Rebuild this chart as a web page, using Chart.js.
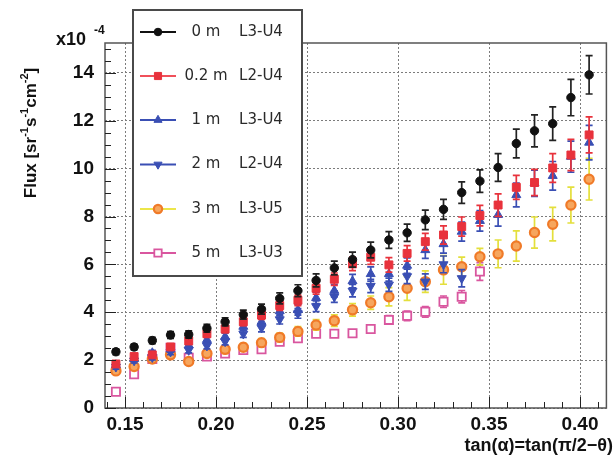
<!DOCTYPE html>
<html>
<head>
<meta charset="utf-8">
<script src="https://cdn.jsdelivr.net/npm/chart.js@4.4.0/dist/chart.umd.min.js"></script>
<style>
  html, body { margin: 0; padding: 0; background: #fff; }
</style>
</head>
<body>
<canvas id="fluxChart" width="614" height="458"></canvas>
<script>
// tan(alpha) bin centres
const tanAlpha = [0.145, 0.155, 0.165, 0.175, 0.185, 0.195, 0.205, 0.215, 0.225, 0.235,
  0.245, 0.255, 0.265, 0.275, 0.285, 0.295, 0.305, 0.315, 0.325, 0.335,
  0.345, 0.355, 0.365, 0.375, 0.385, 0.395, 0.405];

// flux values, in units of 1e-4 sr^-1 s^-1 cm^-2
const flux0m = [2.35, 2.55, 2.82, 3.05, 3.07, 3.33, 3.6, 3.9, 4.13, 4.58,
  4.9, 5.33, 5.85, 6.2, 6.6, 7.02, 7.32, 7.86, 8.3, 9.0,
  9.48, 10.05, 11.05, 11.58, 11.88, 12.97, 13.92];
const err0m = [0.12, 0.12, 0.13, 0.14, 0.15, 0.16, 0.17, 0.19, 0.21, 0.23,
  0.25, 0.27, 0.29, 0.31, 0.33, 0.35, 0.36, 0.41, 0.42, 0.45,
  0.47, 0.58, 0.6, 0.67, 0.7, 0.76, 0.8];

const flux02m = [1.84, 2.15, 2.22, 2.55, 2.8, 3.1, 3.3, 3.6, 3.88, 4.28,
  4.5, 5.0, 5.38, 6.02, 6.3, 5.98, 6.46, 6.95, 7.23, 7.58,
  8.04, 8.48, 9.22, 9.42, 10.03, 10.57, 11.41];
const err02m = [0.1, 0.1, 0.11, 0.12, 0.13, 0.14, 0.15, 0.16, 0.18, 0.2,
  0.22, 0.24, 0.26, 0.28, 0.3, 0.3, 0.32, 0.35, 0.38, 0.4,
  0.43, 0.47, 0.5, 0.55, 0.6, 0.65, 0.75];

const flux1m = [1.8, 2.05, 2.3, 2.45, 2.62, 2.85, 2.98, 3.4, 3.6, 4.05,
  4.1, 4.6, 4.9, 5.3, 5.6, 5.6, 5.95, 6.6, 6.85, 7.37,
  7.82, 8.07, 8.9, 9.39, 9.7, 10.5, 11.09];
const err1m = [0.1, 0.1, 0.11, 0.12, 0.13, 0.14, 0.15, 0.16, 0.18, 0.2,
  0.22, 0.24, 0.26, 0.28, 0.3, 0.3, 0.32, 0.35, 0.38, 0.4,
  0.43, 0.47, 0.5, 0.55, 0.6, 0.65, 0.72];

const flux2m = [1.72, 1.98, 2.12, 2.35, 2.42, 2.6, 2.78, 3.1, 3.35, 3.7,
  3.95, 4.25, 4.65, 4.9, 5.1, 5.15, 5.5, 5.28, 6.0, 5.42];
const err2m = [0.1, 0.1, 0.11, 0.12, 0.12, 0.13, 0.14, 0.15, 0.17, 0.19,
  0.2, 0.22, 0.24, 0.26, 0.28, 0.28, 0.3, 0.32, 0.35, 0.36];

const flux3m = [1.55, 1.73, 2.05, 2.22, 1.94, 2.28, 2.45, 2.54, 2.73, 2.95,
  3.2, 3.47, 3.65, 4.1, 4.4, 4.65, 5.0, 5.28, 5.77, 5.9,
  6.32, 6.44, 6.77, 7.33, 7.68, 8.48, 9.56];
const err3m = [0.12, 0.12, 0.13, 0.14, 0.14, 0.15, 0.15, 0.16, 0.17, 0.18,
  0.2, 0.22, 0.24, 0.26, 0.28, 0.38, 0.5, 0.45, 0.6, 0.4,
  0.35, 0.58, 0.63, 0.65, 0.7, 0.75, 0.87];

const flux5m = [0.68, 1.41, 2.05, 2.52, 2.1, 2.15, 2.28, 2.42, 2.45, 2.77,
  2.91, 3.1, 3.1, 3.12, 3.3, 3.68, 3.85, 4.02, 4.44, 4.65, 5.7];
const err5m = [0.1, 0.1, 0.1, 0.11, 0.11, 0.11, 0.12, 0.12, 0.12, 0.13,
  0.13, 0.14, 0.14, 0.15, 0.16, 0.18, 0.2, 0.22, 0.24, 0.26, 0.37];

const depthLabels = ["0 m", "0.2 m", "1 m", "2 m", "3 m", "5 m"];
const layerLabels = ["L3-U4", "L2-U4", "L3-U4", "L2-U4", "L3-U5", "L3-U3"];

const xTicks = [0.15, 0.20, 0.25, 0.30, 0.35, 0.40];
const yTicks = [0, 2, 4, 6, 8, 10, 12, 14];

const toPoints = (ys) => ys.map((y, i) => ({ x: tanAlpha[i], y }));

const styles = [
  { pointStyle: "circle", radius: 4.2, fill: "#111111", border: "#111111", bw: 1, bar: "#222222", line: "#111111", rot: 0 },
  { pointStyle: "rect", radius: 5.6, fill: "#e8323c", border: "#e8323c", bw: 1, bar: "#e8323c", line: "#f0505a", rot: 0 },
  { pointStyle: "triangle", radius: 5.2, fill: "#3a4fb4", border: "#3a4fb4", bw: 1, bar: "#3a4fb4", line: "#3a4fb4", rot: 0 },
  { pointStyle: "triangle", radius: 5.2, fill: "#3a4fb4", border: "#3a4fb4", bw: 1, bar: "#3a4fb4", line: "#3a4fb4", rot: 180 },
  { pointStyle: "circle", radius: 4.6, fill: "#f6a65e", border: "#f07a28", bw: 2.2, bar: "#e4df3c", line: "#ece64a", rot: 0 },
  { pointStyle: "rect", radius: 5.8, fill: "#ffffff", border: "#d9569f", bw: 1.8, bar: "#d9569f", line: "#d9569f", rot: 0 },
];

const seriesValues = [flux0m, flux02m, flux1m, flux2m, flux3m, flux5m];
const seriesErrors = [err0m, err02m, err1m, err2m, err3m, err5m];

const datasets = seriesValues.map((vals, i) => ({
  label: depthLabels[i],
  data: toPoints(vals),
  errors: seriesErrors[i],
  showLine: false,
  pointStyle: styles[i].pointStyle,
  pointRadius: styles[i].radius,
  pointRotation: styles[i].rot,
  pointBackgroundColor: styles[i].fill,
  pointBorderColor: styles[i].border,
  pointBorderWidth: styles[i].bw,
  barColor: styles[i].bar,
}));

const TICK_FONT = { family: "'Liberation Sans', Arial, sans-serif", size: 19, weight: "bold" };

// vertical error bars with caps, drawn just before each dataset's markers
const errorBars = {
  id: "errorBars",
  beforeDatasetDraw(chart, args) {
    const ds = chart.data.datasets[args.index];
    const { x: xs, y: ys } = chart.scales;
    const ctx = chart.ctx;
    ctx.save();
    ctx.strokeStyle = ds.barColor;
    ctx.lineWidth = 1.7;
    ds.data.forEach((p, i) => {
      const e = ds.errors[i];
      const px = xs.getPixelForValue(p.x);
      const top = ys.getPixelForValue(p.y + e);
      const bot = ys.getPixelForValue(p.y - e);
      ctx.beginPath();
      ctx.moveTo(px, top);
      ctx.lineTo(px, bot);
      ctx.moveTo(px - 3.5, top);
      ctx.lineTo(px + 3.5, top);
      ctx.moveTo(px - 3.5, bot);
      ctx.lineTo(px + 3.5, bot);
      ctx.stroke();
    });
    ctx.restore();
  },
};

function drawRich(ctx, parts, x, y) {
  // parts: [text, isSuperscript]
  const big = "bold 17px 'Liberation Sans', Arial, sans-serif";
  const small = "bold 11px 'Liberation Sans', Arial, sans-serif";
  let total = 0;
  parts.forEach(([t, sup]) => {
    ctx.font = sup ? small : big;
    total += ctx.measureText(t).width;
  });
  let cx = x - total / 2;
  parts.forEach(([t, sup]) => {
    ctx.font = sup ? small : big;
    ctx.fillText(t, cx, sup ? y - 8 : y);
    cx += ctx.measureText(t).width;
  });
}

const decorations = {
  id: "decorations",
  afterDraw(chart) {
    const ctx = chart.ctx;
    const { left, right, top, bottom } = chart.chartArea;
    const xs = chart.scales.x;
    const ys = chart.scales.y;
    ctx.save();

    // frame
    ctx.strokeStyle = "#555";
    ctx.lineWidth = 1.5;
    ctx.strokeRect(left, top, right - left, bottom - top);

    // inward tick marks
    ctx.strokeStyle = "#222";
    ctx.lineWidth = 1;
    ctx.beginPath();
    for (let k = 0; k <= 30; k++) {
      const v = k * 0.5;
      if (v > ys.max) break;
      const py = Math.round(ys.getPixelForValue(v)) + 0.5;
      const len = k % 4 === 0 ? 11 : 6;
      ctx.moveTo(left, py);
      ctx.lineTo(left + len, py);
    }
    for (let k = 14; k <= 41; k++) {
      const v = k / 100;
      if (v < xs.min || v > xs.max) continue;
      const px = Math.round(xs.getPixelForValue(v)) + 0.5;
      const len = k % 5 === 0 ? 11 : 6;
      ctx.moveTo(px, bottom);
      ctx.lineTo(px, bottom - len);
    }
    ctx.stroke();

    // axis titles
    ctx.fillStyle = "#111";
    ctx.textBaseline = "alphabetic";
    ctx.textAlign = "left";
    ctx.font = "bold 18px 'Liberation Sans', Arial, sans-serif";
    ctx.fillText("x10", 56, 45);
    ctx.font = "bold 12px 'Liberation Sans', Arial, sans-serif";
    ctx.fillText("-4", 94, 34);

    ctx.textAlign = "right";
    ctx.font = "bold 18px 'Liberation Sans', Arial, sans-serif";
    ctx.fillText("tan(\u03b1)=tan(\u03c0/2\u2212\u03b8)", 613, 451);

    ctx.save();
    ctx.translate(36, 133);
    ctx.rotate(-Math.PI / 2);
    ctx.textAlign = "left";
    drawRich(ctx, [["Flux [sr", false], ["-1", true], ["s", false], ["-1", true], ["cm", false], ["-2", true], ["]", false]], 0, 0);
    ctx.restore();

    // legend box
    const bx = 133, by = 10, bw = 169, bh = 266;
    ctx.fillStyle = "#fff";
    ctx.fillRect(bx, by, bw, bh);
    ctx.strokeStyle = "#4a4a4a";
    ctx.lineWidth = 2;
    ctx.strokeRect(bx, by, bw, bh);

    const rowY = [32, 76, 120, 164.5, 209, 253];
    ctx.font = "15px 'DejaVu Sans', Verdana, sans-serif";
    ctx.textBaseline = "middle";
    ctx.textAlign = "center";
    chart.data.datasets.forEach((ds, i) => {
      const y = rowY[i];
      ctx.strokeStyle = styles[i].line;
      ctx.lineWidth = 2;
      ctx.beginPath();
      ctx.moveTo(140, y);
      ctx.lineTo(176, y);
      ctx.stroke();
      ctx.fillStyle = styles[i].fill;
      ctx.strokeStyle = styles[i].border;
      ctx.lineWidth = styles[i].bw;
      Chart.helpers.drawPoint(ctx, {
        pointStyle: styles[i].pointStyle,
        radius: styles[i].radius * 0.9,
        rotation: styles[i].rot,
        borderWidth: styles[i].bw,
      }, 158, y);
      ctx.fillStyle = "#2a2a2a";
      ctx.fillText(depthLabels[i], 206, y);
      ctx.fillText(layerLabels[i], 261, y);
    });

    ctx.restore();
  },
};

const ctx = document.getElementById("fluxChart").getContext("2d");
new Chart(ctx, {
  type: "scatter",
  data: { datasets },
  options: {
    responsive: false,
    animation: false,
    layout: { padding: { left: 0, right: 2, top: 43, bottom: 0 } },
    plugins: { legend: { display: false }, tooltip: { enabled: false } },
    scales: {
      x: {
        type: "linear",
        min: 0.139,
        max: 0.4145,
        afterBuildTicks: (s) => { s.ticks = xTicks.map((v) => ({ value: v })); },
        afterFit: (s) => {
          s.height = 50;
          s.paddingLeft = 0; s.paddingRight = 0;
        },
        grid: { color: "#7c7c7c", lineWidth: 1, drawTicks: false },
        border: { display: false, dash: [2, 2] },
        ticks: {
          padding: 5,
          maxRotation: 0,
          autoSkip: false,
          color: "#111",
          font: TICK_FONT,
          callback: (v) => v.toFixed(2),
        },
      },
      y: {
        type: "linear",
        min: 0,
        max: 15.25,
        afterBuildTicks: (s) => { s.ticks = yTicks.map((v) => ({ value: v })); },
        afterFit: (s) => {
          s.width = 105;
          s.paddingTop = 0; s.paddingBottom = 0;
        },
        grid: { color: "#7c7c7c", lineWidth: 1, drawTicks: false },
        border: { display: false, dash: [2, 2] },
        ticks: {
          padding: 11,
          color: "#111",
          font: TICK_FONT,
          callback: (v) => String(v),
        },
      },
    },
  },
  plugins: [errorBars, decorations],
});
</script>
</body>
</html>
